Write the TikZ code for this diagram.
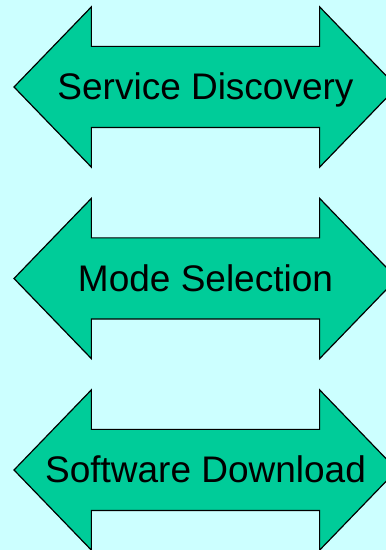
\documentclass[tikz,border=0pt]{standalone}
\usepackage{fontspec}
\setmainfont{Liberation Sans}
\usetikzlibrary{positioning, shapes.arrows}

\definecolor{paleCyan}{HTML}{CCFFFF}
\definecolor{seaGreen}{HTML}{00CC99}

% label that may run past the shaft
\newcommand{\arrowlabel}[1]{\makebox[0pt]{#1}}

\begin{document}
\begin{tikzpicture}[
  x=1pt, y=1pt,
  font=\fontsize{37}{40}\selectfont,
  node distance=191.5pt, on grid,
  dblarrow/.style={draw, line width=1.2pt, fill=seaGreen, shape=double arrow,
    double arrow head extend=39.5pt, double arrow tip angle=92, minimum height=383pt,
    text height=53pt, text depth=27pt, inner sep=0pt}
]
\fill[paleCyan] (0,0) rectangle (386,550);
\useasboundingbox (0,0) rectangle (386,550);
\clip (0,0) rectangle (386,550);
\node[dblarrow] (disc) at (205.5,463) {\arrowlabel{Service Discovery}};
\node[dblarrow, below=of disc] (mode) {\arrowlabel{Mode Selection}};
\node[dblarrow, below=of mode] (soft) {\arrowlabel{Software Download}};
\end{tikzpicture}
\end{document}
